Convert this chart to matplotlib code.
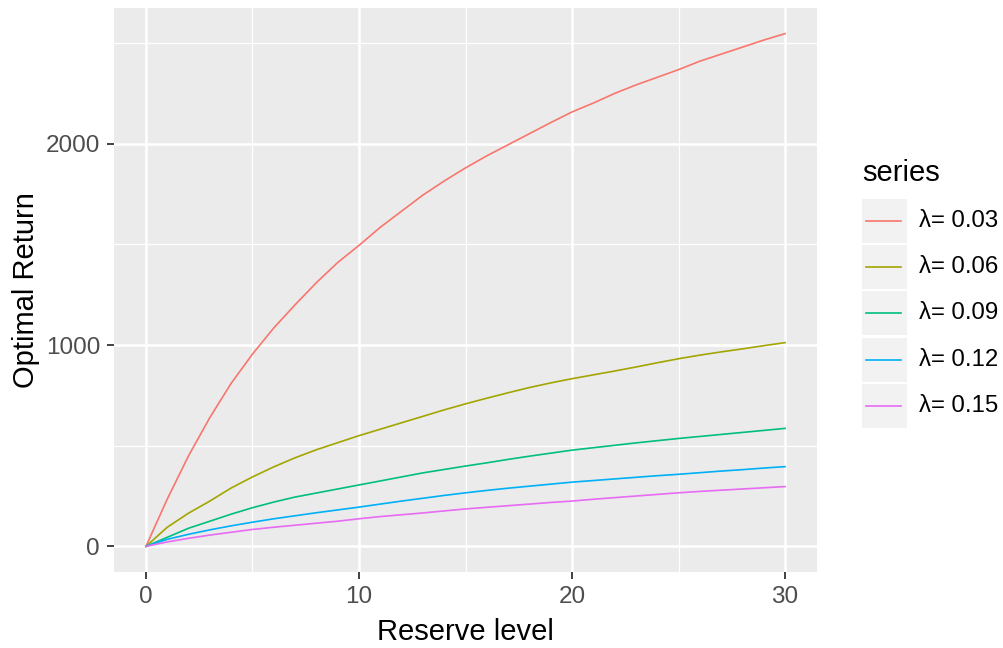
import matplotlib
matplotlib.use("Agg")
from matplotlib import pyplot as plt
from matplotlib.patches import Rectangle

plt.rcParams['font.family'] = ['Liberation Sans', 'DejaVu Sans']

# reserve level
reserve = list(range(0, 31))

# optimal return for each lambda
ret_003 = [0, 235, 450, 640, 810, 955, 1085, 1200, 1310, 1410, 1495,
           1585, 1665, 1745, 1815, 1880, 1940, 1995, 2050, 2105, 2158,
           2202, 2250, 2292, 2330, 2368, 2410, 2445, 2480, 2515, 2547]
ret_006 = [0, 95, 165, 225, 290, 345, 395, 440, 480, 515, 550,
           582, 614, 646, 678, 708, 736, 763, 789, 812, 833,
           852, 871, 891, 912, 932, 950, 966, 981, 997, 1012]
ret_009 = [0, 45, 90, 125, 160, 192, 220, 245, 265, 285, 305,
           325, 345, 365, 382, 399, 415, 432, 448, 463, 478,
           490, 502, 514, 525, 536, 546, 556, 566, 576, 586]
ret_012 = [0, 35, 60, 82, 102, 120, 137, 152, 167, 181, 195,
           210, 225, 239, 253, 266, 278, 289, 299, 309, 319,
           327, 335, 343, 351, 358, 366, 374, 381, 389, 396]
ret_015 = [0, 22, 40, 56, 70, 84, 95, 105, 115, 125, 137,
           148, 157, 166, 176, 186, 194, 202, 210, 218, 225,
           234, 242, 250, 258, 266, 273, 279, 285, 291, 297]

labels = ['λ= 0.03', 'λ= 0.06', 'λ= 0.09', 'λ= 0.12', 'λ= 0.15']
colors = ['#F8766D', '#A3A500', '#00BF7D', '#00B0F6', '#E76BF3']
series = [ret_003, ret_006, ret_009, ret_012, ret_015]

W, H = 1004, 648
fig = plt.figure(figsize=(W / 100, H / 100), dpi=100)
ax = fig.add_axes([114 / W, 1 - 572 / H, (817 - 114) / W, (572 - 8) / H])

ax.set_facecolor('#EBEBEB')
for s in ax.spines.values():
    s.set_visible(False)

for y, c, lab in zip(series, colors, labels):
    ax.plot(reserve, y, color=c, lw=1.2, label=lab, zorder=3)

ymax = max(max(s) for s in series)
ax.set_xlim(-1.5, 31.5)
ax.set_ylim(-0.05 * ymax, 1.05 * ymax)
ax.set_xticks([0, 10, 20, 30])
ax.set_yticks([0, 1000, 2000])
ax.set_xticks([5, 15, 25], minor=True)
ax.set_yticks([500, 1500, 2500], minor=True)
ax.grid(which='major', color='white', lw=1.8, zorder=1)
ax.grid(which='minor', color='white', lw=0.9, zorder=1)
ax.set_axisbelow(True)
ax.tick_params(which='major', length=5, width=1.3, color='#333333',
               labelsize=17.5, labelcolor='#4D4D4D', pad=5)
ax.tick_params(which='minor', length=0)

ax.set_xlabel('Reserve level', fontsize=21, labelpad=7)
ax.set_ylabel('Optimal Return', fontsize=21, labelpad=4)

# legend drawn by hand, ggplot style
fig.text(862 / W, 1 - 173 / H, 'series', fontsize=21, va='center', ha='left')
for i, (c, lab) in enumerate(zip(colors, labels)):
    cy = 221 + 46.2 * i
    fig.add_artist(Rectangle((862 / W, 1 - (cy + 22) / H), 45 / W, 44 / H,
                             transform=fig.transFigure, facecolor='#F2F2F2',
                             edgecolor='none'))
    fig.add_artist(plt.Line2D([866 / W, 901 / W], [1 - cy / H, 1 - cy / H],
                              transform=fig.transFigure, color=c, lw=1.2))
    fig.text(919 / W, 1 - cy / H, lab, fontsize=17.3, va='center', ha='left')

fig.savefig('out.png', dpi=100)
